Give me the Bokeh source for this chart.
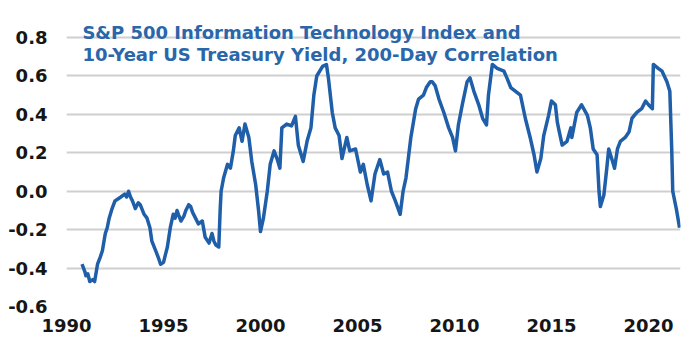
from bokeh.plotting import figure
from bokeh.models import Range1d, FixedTicker, Label, ColumnDataSource
from bokeh.embed import file_html
from bokeh.resources import INLINE

# ---- data ----
years = [1990.80, 1990.95, 1991.00, 1991.10, 1991.20, 1991.35, 1991.45, 1991.60, 1991.75, 1991.85,
         1992.00, 1992.10, 1992.20, 1992.35, 1992.50, 1992.65, 1992.80, 1993.00, 1993.10, 1993.20,
         1993.30, 1993.40, 1993.55, 1993.70, 1993.80, 1994.00, 1994.15, 1994.30, 1994.40, 1994.60,
         1994.75, 1994.85, 1995.00, 1995.10, 1995.20, 1995.35, 1995.50, 1995.60, 1995.70, 1995.80,
         1995.90, 1996.05, 1996.15, 1996.30, 1996.40, 1996.50, 1996.65, 1996.80, 1997.00, 1997.15,
         1997.35, 1997.50, 1997.60, 1997.70, 1997.85, 1997.92, 1997.97, 1998.10, 1998.30, 1998.45,
         1998.60, 1998.70, 1998.90, 1999.05, 1999.20, 1999.40, 1999.55, 1999.75, 1999.90, 2000.00,
         2000.15, 2000.35, 2000.50, 2000.70, 2000.85, 2001.00, 2001.10, 2001.35, 2001.60, 2001.80,
         2001.95, 2002.20, 2002.40, 2002.60, 2002.75, 2002.90, 2003.20, 2003.40, 2003.50, 2003.70,
         2003.85, 2004.05, 2004.20, 2004.45, 2004.60, 2004.90, 2005.15, 2005.30, 2005.50, 2005.70,
         2005.90, 2006.15, 2006.35, 2006.55, 2006.75, 2006.95, 2007.20, 2007.35, 2007.50, 2007.75,
         2008.00, 2008.15, 2008.40, 2008.55, 2008.75, 2008.85, 2009.00, 2009.20, 2009.45, 2009.70,
         2009.90, 2010.05, 2010.20, 2010.40, 2010.65, 2010.80, 2011.00, 2011.25, 2011.45, 2011.65,
         2011.75, 2011.95, 2012.20, 2012.55, 2012.70, 2012.90, 2013.15, 2013.40, 2013.65, 2013.90,
         2014.10, 2014.25, 2014.45, 2014.60, 2014.85, 2015.00, 2015.20, 2015.30, 2015.40, 2015.55,
         2015.80, 2016.00, 2016.05, 2016.30, 2016.55, 2016.85, 2017.00, 2017.15, 2017.35, 2017.45,
         2017.52, 2017.70, 2017.85, 2017.95, 2018.15, 2018.25, 2018.40, 2018.55, 2018.80, 2019.00,
         2019.15, 2019.40, 2019.65, 2019.85, 2020.00, 2020.20, 2020.25, 2020.50, 2020.70, 2020.95,
         2021.10, 2021.20, 2021.25, 2021.45, 2021.60]
correlation = [-0.38, -0.42, -0.44, -0.43, -0.47, -0.46, -0.47, -0.38, -0.34, -0.31,
               -0.22, -0.19, -0.14, -0.09, -0.05, -0.04, -0.03, -0.015, -0.03, 0.0,
               -0.03, -0.05, -0.09, -0.06, -0.07, -0.12, -0.14, -0.19, -0.26, -0.31,
               -0.35, -0.38, -0.37, -0.33, -0.29, -0.19, -0.12, -0.14, -0.10, -0.13,
               -0.155, -0.13, -0.10, -0.07, -0.08, -0.11, -0.14, -0.17, -0.155, -0.24,
               -0.27, -0.22, -0.26, -0.28, -0.29, -0.10, 0.0, 0.07, 0.14, 0.12,
               0.21, 0.29, 0.33, 0.26, 0.35, 0.28, 0.155, 0.035, -0.10, -0.21,
               -0.14, 0.0, 0.14, 0.21, 0.17, 0.12, 0.33, 0.35, 0.34, 0.39,
               0.24, 0.155, 0.26, 0.33, 0.50, 0.60, 0.65, 0.66, 0.59, 0.41,
               0.33, 0.29, 0.17, 0.28, 0.21, 0.22, 0.10, 0.14, 0.035, -0.05,
               0.09, 0.165, 0.09, 0.10, 0.0, -0.05, -0.12, 0.0, 0.07, 0.28,
               0.43, 0.48, 0.50, 0.54, 0.57, 0.57, 0.55, 0.48, 0.41, 0.33,
               0.28, 0.21, 0.345, 0.45, 0.57, 0.59, 0.52, 0.45, 0.38, 0.345,
               0.50, 0.66, 0.64, 0.625, 0.59, 0.54, 0.52, 0.50, 0.38, 0.28,
               0.19, 0.10, 0.17, 0.29, 0.395, 0.47, 0.45, 0.36, 0.31, 0.24,
               0.26, 0.33, 0.28, 0.41, 0.45, 0.395, 0.33, 0.22, 0.19, 0.0,
               -0.08, -0.02, 0.12, 0.22, 0.155, 0.12, 0.22, 0.26, 0.28, 0.31,
               0.38, 0.41, 0.43, 0.47, 0.45, 0.43, 0.66, 0.64, 0.625, 0.57,
               0.52, 0.21, 0.0, -0.10, -0.19]
x_ticks = [1990, 1995, 2000, 2005, 2010, 2015, 2020]
y_ticks = [-0.6, -0.4, -0.2, 0.0, 0.2, 0.4, 0.6, 0.8]
y_tick_labels = ["-0.6", "-0.4", "-0.2", "0.0", "0.2", "0.4", "0.6", "0.8"]
title_lines = ["S&P 500 Information Technology Index and",
               "10-Year US Treasury Yield, 200-Day Correlation"]

LINE_COLOR = "#1f5ea8"
TITLE_COLOR = "#2a66aa"
TEXT_COLOR = "#161616"
TICK_FONT = "DejaVu Sans"
TITLE_FONT = "DejaVu Sans"

p = figure(width=693, height=356, output_backend="svg", toolbar_location=None,
           x_range=Range1d(1990, 2021.65), y_range=Range1d(-0.6, 0.993),
           min_border_left=66, min_border_right=13, min_border_top=0, min_border_bottom=50)
p.outline_line_color = None
p.background_fill_color = "white"
p.border_fill_color = "white"

src = ColumnDataSource(dict(x=years, y=correlation))
p.line("x", "y", source=src, line_color=LINE_COLOR, line_width=3.5, line_join="round")

# grid
p.xgrid.grid_line_color = None
p.ygrid.grid_line_color = "#cfcfcf"
p.ygrid.grid_line_width = 2
p.ygrid.ticker = FixedTicker(ticks=y_ticks)

# axes
for ax in (p.xaxis[0], p.yaxis[0]):
    ax.axis_line_color = None
    ax.major_tick_line_color = None
    ax.minor_tick_line_color = None
    ax.major_tick_out = 0
    ax.major_tick_in = 0
    ax.major_label_text_font = TICK_FONT
    ax.major_label_text_font_style = "bold"
    ax.major_label_text_font_size = "18px"
    ax.major_label_text_color = TEXT_COLOR

p.xaxis.ticker = FixedTicker(ticks=x_ticks)
p.xaxis.major_label_standoff = 12
p.yaxis.ticker = FixedTicker(ticks=y_ticks)
p.yaxis.major_label_overrides = {t: l for t, l in zip(y_ticks, y_tick_labels)}
p.yaxis.major_label_standoff = 19

# title inside the plot
for txt, yv in zip(title_lines, [0.826, 0.712]):
    p.add_layout(Label(x=1990.82, y=yv, text=txt, text_font=TITLE_FONT, text_font_style="bold",
                       text_font_size="18px", text_color=TITLE_COLOR,
                       text_baseline="alphabetic", text_align="left"))

open("out.html", "w").write(file_html(p, INLINE))
